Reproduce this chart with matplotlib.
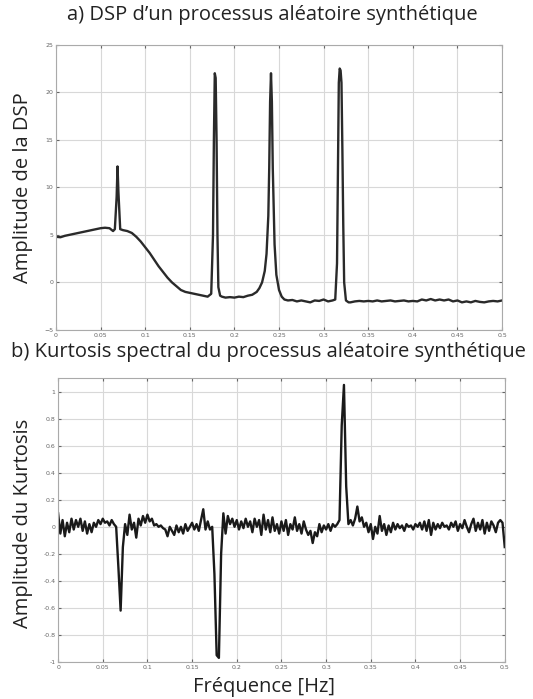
import numpy as np
import matplotlib
matplotlib.use("Agg")
import matplotlib.pyplot as plt

# --- a) DSP (frequence en Hz, amplitude) ---
dsp_freq = [0, 0.005, 0.01, 0.015, 0.02, 0.025, 0.03, 0.035, 0.04, 0.045, 0.05, 0.055,
            0.06, 0.064, 0.066, 0.068, 0.069, 0.070, 0.072, 0.075, 0.08, 0.085, 0.09,
            0.095, 0.10, 0.105, 0.11, 0.115, 0.12, 0.125, 0.13, 0.135, 0.14, 0.145,
            0.15, 0.155, 0.16, 0.165, 0.170, 0.174, 0.176, 0.177, 0.178, 0.179, 0.180,
            0.181, 0.182, 0.184, 0.186, 0.19, 0.195, 0.20, 0.205, 0.21, 0.215, 0.22,
            0.225, 0.228, 0.231, 0.234, 0.236, 0.238, 0.239, 0.240, 0.241, 0.242,
            0.243, 0.245, 0.247, 0.25, 0.253, 0.256, 0.26, 0.265, 0.27, 0.275, 0.28,
            0.285, 0.29, 0.295, 0.30, 0.305, 0.31, 0.313, 0.315, 0.316, 0.317, 0.318,
            0.319, 0.320, 0.321, 0.322, 0.323, 0.325, 0.328, 0.33, 0.335, 0.34, 0.345,
            0.35, 0.355, 0.36, 0.365, 0.37, 0.375, 0.38, 0.385, 0.39, 0.395, 0.40,
            0.405, 0.41, 0.415, 0.42, 0.425, 0.43, 0.435, 0.44, 0.445, 0.45, 0.455,
            0.46, 0.465, 0.47, 0.475, 0.48, 0.485, 0.49, 0.495, 0.50]
dsp_amp = [4.8, 4.75, 4.9, 5.0, 5.1, 5.2, 5.3, 5.4, 5.5, 5.6, 5.7, 5.75,
           5.7, 5.4, 5.6, 9.0, 12.2, 9.5, 5.6, 5.5, 5.4, 5.2, 4.8,
           4.3, 3.7, 3.1, 2.4, 1.7, 1.1, 0.5, 0.0, -0.4, -0.8, -1.0,
           -1.1, -1.2, -1.3, -1.4, -1.5, -1.2, 5.0, 15.0, 22.0, 21.5, 15.0,
           5.0, -0.5, -1.4, -1.5, -1.6, -1.55, -1.6, -1.5, -1.55, -1.4, -1.3,
           -1.0, -0.6, 0.0, 1.2, 3.0, 7.0, 12.0, 19.0, 22.0, 19.0,
           12.0, 4.0, 0.8, -0.8, -1.5, -1.8, -1.9, -1.85, -2.0, -1.9, -2.0,
           -2.1, -1.9, -1.95, -1.8, -2.0, -1.9, -1.8, 2.0, 12.0, 21.0, 22.5,
           22.3, 21.0, 14.0, 6.0, 0.0, -1.9, -2.1, -2.1, -2.0, -1.95, -2.0,
           -1.95, -2.0, -1.9, -2.0, -1.95, -1.9, -2.0, -1.95, -1.9, -2.0, -1.95,
           -2.0, -1.8, -1.9, -1.75, -1.9, -1.8, -1.9, -1.8, -2.0, -1.9, -2.1,
           -2.0, -2.1, -1.95, -2.05, -2.1, -2.0, -1.95, -2.0, -1.9]

# --- b) Kurtosis spectral (pas de 0.0025 Hz, de 0 a 0.5) ---
kurt = [0.10, -0.05, 0.05, -0.07, 0.03, -0.04, 0.06, -0.02, 0.05, 0.00,
        0.06, -0.03, 0.04, -0.05, 0.02, -0.04, 0.03, 0.00, 0.05, 0.02,
        0.06, 0.03, 0.04, 0.01, 0.05, 0.02, 0.00, -0.30, -0.62, -0.15,
        0.02, -0.06, 0.09, -0.02, 0.03, -0.08, 0.06, 0.01, 0.08, 0.03,
        0.09, 0.04, 0.06, 0.01, 0.02, 0.00, 0.01, -0.01, -0.02, -0.07,
        0.00, -0.03, -0.06, 0.01, -0.04, 0.00, -0.05, 0.02, -0.03, 0.00,
        0.03, -0.02, 0.02, -0.03, 0.05, 0.13, -0.02, 0.04, -0.02, 0.00,
        -0.35, -0.95, -0.97, -0.20, 0.10, -0.05, 0.08, 0.02, 0.06, 0.00,
        0.05, -0.02, 0.04, -0.01, 0.06, 0.00, 0.04, -0.04, 0.06, 0.00,
        0.05, -0.06, 0.09, -0.02, 0.05, -0.04, 0.07, -0.03, 0.02, -0.05,
        0.04, -0.03, 0.05, -0.06, 0.02, -0.02, 0.07, -0.03, 0.02, -0.05,
        0.04, -0.02, -0.06, -0.03, -0.12, -0.04, -0.07, 0.02, -0.04, 0.01,
        -0.02, 0.02, -0.03, 0.02, 0.00, 0.02, 0.05, 0.75, 1.05, 0.30,
        0.02, 0.05, 0.01, 0.06, 0.15, 0.04, 0.07, 0.00, 0.03, -0.04,
        0.02, -0.09, 0.00, -0.05, 0.08, -0.03, 0.02, -0.06, 0.01, -0.04,
        0.03, -0.02, 0.02, -0.01, 0.01, -0.03, 0.02, 0.00, 0.01, -0.02,
        0.02, 0.00, 0.03, -0.02, 0.04, -0.03, 0.05, -0.06, 0.03, -0.02,
        0.02, -0.01, 0.03, 0.00, 0.01, -0.02, 0.03, 0.00, 0.04, -0.03,
        0.02, -0.01, 0.05, 0.00, -0.04, 0.02, 0.06, -0.03, 0.03, -0.02,
        0.05, -0.05, 0.03, -0.03, 0.04, 0.01, -0.04, 0.03, 0.05, 0.03,
        -0.15]
kurt_freq = np.linspace(0, 0.5, len(kurt))

xticks = [0, 0.05, 0.1, 0.15, 0.2, 0.25, 0.3, 0.35, 0.4, 0.45, 0.5]
xticklabels = ["0", "0.05", "0.1", "0.15", "0.2", "0.25", "0.3", "0.35", "0.4", "0.45", "0.5"]
dsp_yticks = [-5, 0, 5, 10, 15, 20, 25]
kurt_yticks = [-1, -0.8, -0.6, -0.4, -0.2, 0, 0.2, 0.4, 0.6, 0.8, 1]

FONT = "Open Sans"


def style_axes(ax):
    ax.set_xlim(0, 0.5)
    ax.set_xticks(xticks)
    ax.set_xticklabels(xticklabels)
    ax.grid(True, color="#d8d8d8", linewidth=0.8)
    ax.tick_params(direction="in", length=2.5, labelsize=4.5, colors="#666666",
                   top=True, right=True, pad=2)
    for s in ax.spines.values():
        s.set_color("#aaaaaa")
        s.set_linewidth(0.8)


fig = plt.figure(figsize=(5.33, 6.99), dpi=100)

ax1 = fig.add_axes([0.105, 0.528, 0.837, 0.408])
ax1.plot(dsp_freq, dsp_amp, color="#2a2a2a", linewidth=1.7)
ax1.set_ylim(-5, 25)
ax1.set_yticks(dsp_yticks)
style_axes(ax1)
ax1.set_ylabel("Amplitude de la DSP", fontsize=14.5, family=FONT, color="#222222")
ax1.yaxis.set_label_coords(-0.052, 0.5)

ax2 = fig.add_axes([0.109, 0.053, 0.838, 0.406])
ax2.plot(kurt_freq, kurt, color="#1a1a1a", linewidth=1.7)
ax2.set_ylim(-1, 1.1)
ax2.set_yticks(kurt_yticks)
ax2.set_yticklabels([str(v) for v in kurt_yticks])
style_axes(ax2)
ax2.set_ylabel("Amplitude du Kurtosis", fontsize=14.5, family=FONT, color="#222222")
ax2.yaxis.set_label_coords(-0.057, 0.49)
ax2.set_xlabel("Fréquence [Hz]", fontsize=14.5, family=FONT, color="#222222")
ax2.xaxis.set_label_coords(0.46, -0.052)

fig.text(0.511, 0.978, "a) DSP d\u2019un processus aléatoire synthétique", ha="center", va="center",
         fontsize=14.5, family=FONT, color="#222222")
fig.text(0.503, 0.496, "b) Kurtosis spectral du processus aléatoire synthétique", ha="center",
         va="center", fontsize=14.5, family=FONT, color="#222222")

fig.savefig("out.png", dpi=100)
